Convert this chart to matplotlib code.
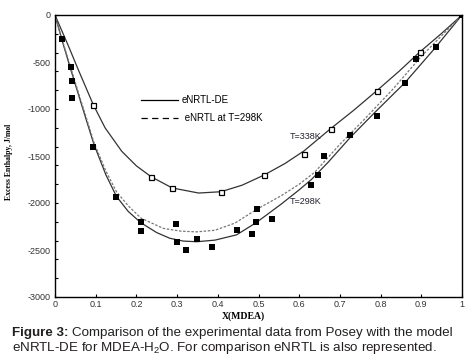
import numpy as np
import matplotlib
matplotlib.use("Agg")
import matplotlib.pyplot as plt
from matplotlib.lines import Line2D
from matplotlib.ticker import MultipleLocator, FuncFormatter

plt.rcParams['font.family'] = ['Liberation Sans', 'DejaVu Sans']
plt.rcParams['mathtext.fontset'] = 'custom'
plt.rcParams['mathtext.rm'] = 'Liberation Sans'
plt.rcParams['mathtext.it'] = 'Liberation Sans'

# experimental points (Posey)
x338 = [0.094, 0.236, 0.288, 0.408, 0.514, 0.612, 0.677, 0.791, 0.896]
h338 = [-954, -1720, -1840, -1880, -1702, -1477, -1210, -804, -395]
x298 = [0.016, 0.0385, 0.042, 0.042, 0.094, 0.151, 0.212, 0.212, 0.297, 0.300,
        0.321, 0.348, 0.385, 0.446, 0.485, 0.495, 0.496, 0.532, 0.630, 0.645,
        0.660, 0.726, 0.791, 0.860, 0.888, 0.936, 1.0]
h298 = [-260, -552, -705, -879, -1406, -1940, -2200, -2296, -2225, -2417,
        -2503, -2382, -2464, -2286, -2328, -2204, -2065, -2165, -1808, -1702,
        -1499, -1274, -1079, -719, -463, -345, 0]

# model curves
xc338 = [0, 0.034, 0.057, 0.094, 0.123, 0.164, 0.2, 0.236, 0.288, 0.353, 0.408,
         0.46, 0.514, 0.565, 0.612, 0.677, 0.735, 0.791, 0.845, 0.896, 0.95, 1]
hc338 = [0, -340, -580, -954, -1200, -1450, -1605, -1720, -1840, -1894, -1880,
         -1810, -1702, -1580, -1445, -1210, -1010, -804, -600, -395, -195, 0]
xc298 = [0, 0.016, 0.038, 0.06, 0.08, 0.096, 0.125, 0.151, 0.18, 0.211, 0.25,
         0.282, 0.315, 0.348, 0.393, 0.446, 0.494, 0.556, 0.60, 0.63, 0.671,
         0.726, 0.785, 0.86, 0.93, 1]
hc298 = [0, -250, -570, -880, -1160, -1380, -1700, -1930, -2090, -2210, -2315,
         -2375, -2405, -2412, -2395, -2339, -2210, -2011, -1860, -1750, -1567,
         -1300, -1040, -719, -370, 0]
xd298 = [0, 0.016, 0.038, 0.06, 0.08, 0.096, 0.125, 0.151, 0.18, 0.211, 0.266,
         0.31, 0.348, 0.393, 0.442, 0.497, 0.556, 0.60, 0.638, 0.699, 0.76,
         0.83, 0.9, 1]
hd298 = [0, -240, -550, -860, -1135, -1360, -1660, -1880, -2030, -2160, -2270,
         -2300, -2307, -2290, -2214, -2064, -1922, -1800, -1673, -1380, -1110,
         -790, -440, 0]

fig = plt.figure(figsize=(4.76, 3.59), dpi=100)
ax = fig.add_axes([55 / 476, 1 - 297 / 359, 407 / 476, 282 / 359])

ax.plot(xc338, hc338, color="#333333", lw=0.9)
ax.plot(xc298, hc298, color="#333333", lw=0.9)
ax.plot(xd298, hd298, color="#777777", lw=0.9, dashes=(2.0, 1.3))
ax.plot(x338, h338, "s", ms=3.6, mfc="white", mec="black", mew=0.9)
ax.plot(x298, h298, "s", ms=3.8, color="black", mew=0)

ax.text(0.577, -1292, "T=338K", fontsize=6.5, color="#222233", va="center")
ax.text(0.577, -1986, "T=298K", fontsize=6.5, color="#222233", va="center")

hdl = [Line2D([], [], color="black", lw=0.9),
       Line2D([], [], color="black", lw=0.9, dashes=(5, 3.5))]
ax.legend(hdl, ["eNRTL-DE", " eNRTL at T=298K"], loc="upper left",
          bbox_to_anchor=(0.212, 0.715), frameon=False, fontsize=7.0,
          handlelength=3.8, handletextpad=0.4, labelspacing=0.8,
          borderaxespad=0, borderpad=0)

ax.set_xlim(0, 1)
ax.set_ylim(-3000, 0)
ax.xaxis.set_major_locator(MultipleLocator(0.1))
ax.yaxis.set_major_locator(MultipleLocator(500))
ax.yaxis.set_minor_locator(MultipleLocator(200))
ax.yaxis.remove_overlapping_locs = False
ax.xaxis.set_major_formatter(FuncFormatter(lambda v, p: f"{v:g}"))
ax.yaxis.set_major_formatter(FuncFormatter(lambda v, p: f"{v:g}"))
ax.tick_params(axis="x", direction="in", length=2.5, width=0.8, pad=2,
               labelsize=6.5, labelcolor="#333333")
ax.tick_params(axis="y", which="major", direction="in", length=0, pad=3,
               labelsize=6.5, labelcolor="#333333")
ax.tick_params(axis="y", which="minor", direction="in", length=2.5, width=0.8)
for s in ax.spines.values():
    s.set_linewidth(1.0)

fig.text(243 / 476, 1 - 316 / 359, "X(MDEA)", family="Liberation Serif",
         weight="bold", fontsize=7.0, ha="center", va="center")
fig.text(9 / 476, 1 - 162 / 359, "Excess Enthalpy, J/mol", family="Liberation Serif",
         weight="bold", fontsize=5.6, rotation=90, ha="center", va="center")

# caption
fs = 9.6
c1 = fig.text(12 / 476, 1 - 336 / 359, "Figure 3:", weight="bold", fontsize=fs,
              color="#231f20", va="baseline")
fig.canvas.draw()
r = fig.canvas.get_renderer()
bb = c1.get_window_extent(r)
fig.text(bb.x1 / 476 + 3.5 / 476, 1 - 336 / 359,
         "Comparison of the experimental data from Posey with the model",
         fontsize=fs, color="#231f20", va="baseline")
fig.text(12 / 476, 1 - 351.5 / 359,
         "eNRTL-DE for MDEA-H$_2$O. For comparison eNRTL is also represented.",
         fontsize=fs, color="#231f20", va="baseline")

fig.savefig("out.png", dpi=100)
